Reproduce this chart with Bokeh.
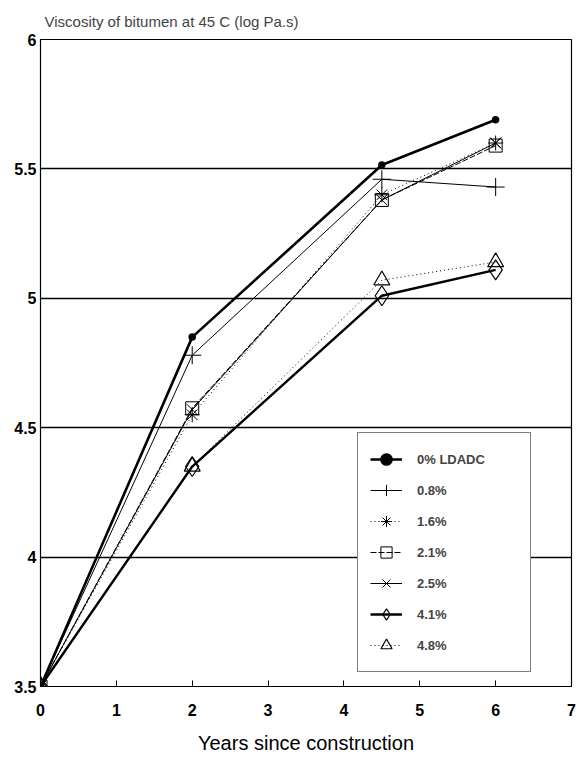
from bokeh.plotting import figure
from bokeh.models import Legend, LegendItem, FixedTicker, Title
from bokeh.embed import file_html
from bokeh.resources import INLINE

years = [0, 2, 4.5, 6]
s_0 = [3.5, 4.85, 5.515, 5.69]
s_08 = [3.5, 4.78, 5.46, 5.43]
s_16 = [3.5, 4.55, 5.40, 5.60]
s_21 = [3.5, 4.575, 5.38, 5.59]
s_25 = [3.5, 4.57, 5.38, 5.60]
s_41 = [3.5, 4.35, 5.01, 5.11]
s_48 = [3.5, 4.35, 5.07, 5.14]

labels = ["0% LDADC", "0.8%", "1.6%", "2.1%", "2.5%", "4.1%", "4.8%"]
x_ticks = [0, 1, 2, 3, 4, 5, 6, 7]
y_ticks = [3.5, 4, 4.5, 5, 5.5, 6]
title_text = "Viscosity of bitumen at 45 C (log Pa.s)"

FONT = "Liberation Sans"

p = figure(width=576, height=756, output_backend="svg", toolbar_location=None,
           x_range=(0, 7), y_range=(3.5, 6),
           min_border_left=40, min_border_right=5, min_border_top=39, min_border_bottom=68)
p.title = Title(text=title_text, text_font=FONT, text_font_size="15px",
                text_font_style="normal", offset=4, standoff=19)
p.outline_line_color = "black"
p.outline_line_width = 1.2

p.xgrid.visible = False
p.ygrid.ticker = FixedTicker(ticks=[4, 4.5, 5, 5.5])
p.ygrid.grid_line_color = "black"
p.ygrid.grid_line_width = 1.6
p.ygrid.grid_line_alpha = 1

p.xaxis.ticker = FixedTicker(ticks=x_ticks)
p.yaxis.ticker = FixedTicker(ticks=y_ticks)
for ax in (p.xaxis[0], p.yaxis[0]):
    ax.axis_line_color = "black"
    ax.major_label_text_font = FONT
    ax.major_label_text_font_size = "16px"
    ax.major_label_text_font_style = "bold"
    ax.major_label_text_color = "black"
    ax.minor_tick_line_color = None
p.xaxis.major_tick_in = 6
p.xaxis.major_tick_out = 0
p.xaxis.major_label_standoff = 17
p.yaxis.major_tick_in = 0
p.yaxis.major_tick_out = 0
p.yaxis.major_label_standoff = 4
p.xaxis.axis_label = "Years since construction"
p.xaxis.axis_label_text_font = FONT
p.xaxis.axis_label_text_font_size = "20px"
p.xaxis.axis_label_text_font_style = "normal"
p.xaxis.axis_label_text_color = "black"
p.xaxis.axis_label_standoff = 13

series = [
    (s_0, 2.6, "solid", "circle", 6, 1.5),
    (s_08, 1.0, "solid", "cross", 18, 1.0),
    (s_16, 1.0, "1 3", "asterisk", 15, 1.0),
    (s_21, 1.0, "6 2", "square", 13, 1.0),
    (s_25, 1.0, "solid", "x", 15, 1.0),
    (s_41, 2.4, "solid", "diamond", 20, 1.2),
    (s_48, 1.0, "1 3", "triangle", 16, 1.2),
]

items = []
for (vals, lw, dash, marker, size, mlw), lab in zip(series, labels):
    ln = p.line(years, vals, line_color="black", line_width=lw, line_dash=dash)
    fill = "black" if marker == "circle" else "white"
    fa = 1.0 if marker == "circle" else 0.0
    sc = p.scatter(years, vals, marker=marker, size=size, line_color="black",
                   line_width=mlw, fill_color=fill, fill_alpha=fa)
    items.append(LegendItem(label=lab, renderers=[ln, sc]))

legend = Legend(items=items, location=(317, 14), border_line_color="black",
                border_line_width=1.2, background_fill_alpha=1,
                label_text_font=FONT, label_text_font_size="13px",
                label_text_font_style="bold",
                glyph_width=32, glyph_height=28, spacing=3, padding=12,
                label_standoff=15, label_width=101, margin=0)
p.add_layout(legend, "center")

open("out.html", "w").write(file_html(p, INLINE))
